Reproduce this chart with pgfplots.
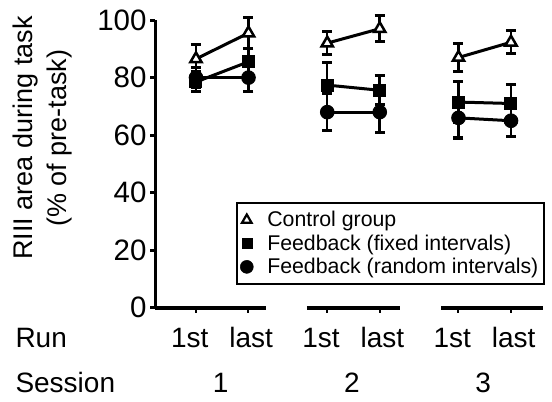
\documentclass[border=0pt]{standalone}
\usepackage{pgfplots}
\pgfplotsset{compat=1.18}
\usepackage{fontspec}
\setmainfont{Liberation Sans}
\newcommand{\bigfnt}{\fontsize{28}{32}\selectfont}
\newcommand{\tickfnt}{\fontsize{29.5}{32}\selectfont}
\pgfplotsset{
  grp/.style={black, line width=3pt, forget plot,
    error bars/y dir=both, error bars/y explicit,
    error bars/error bar style={line width=2.5pt, black, solid},
    error bars/error mark options={rotate=90, mark size=5pt, line width=3pt, black}},
  ctrl/.style={grp, mark=triangle*, mark size=6.5pt, mark options={fill=white, line width=2.5pt}},
  fixd/.style={grp, mark=square*, mark size=6pt, mark options={fill=black, line width=1pt}},
  rand/.style={grp, mark=*, mark size=6.8pt, mark options={fill=black, line width=1pt}},
}
\begin{document}
\begin{tikzpicture}
\begin{axis}[
  scale only axis,
  width=392.7pt, height=287.5pt,
  xmin=-0.78, xmax=6.7, ymin=0, ymax=100,
  axis y line*=left, axis x line=none,
  y axis line style={line width=3pt},
  xtick=\empty,
  ytick={0,20,40,60,80,100},
  tick align=outside,
  major tick length=5pt,
  major tick style={line width=3pt, black},
  /pgf/number format/assume math mode=true,
  yticklabel style={font=\tickfnt},
  ylabel={RIII area during task\\(\% of pre-task)},
  ylabel style={align=center, font=\fontsize{27}{34}\selectfont, at={(axis description cs:-0.2875,0.59)}, anchor=center},
  clip=false,
  legend cell align=left,
  legend style={at={(axis cs:0.76,36.7)}, anchor=north west, draw=black, line width=1.8pt,
    font=\fontsize{21.3}{24}\selectfont, inner xsep=3.5pt, inner ysep=6.5pt, row sep=2.5pt,
    /tikz/every odd column/.append style={column sep=12pt}},
]
% bounding box
\path (axis cs:-3.733,-32.5) rectangle (axis cs:6.781,107);
% x axis segments
\draw[line width=4pt] (axis cs:-0.78,0) -- (axis cs:1.33,0);
\draw[line width=4pt] (axis cs:2.11,0) -- (axis cs:3.89,0);
\draw[line width=4pt] (axis cs:4.67,0) -- (axis cs:6.61,0);
\draw[line width=2pt] (axis cs:0,0) -- ++(0pt,-5pt);
\draw[line width=2pt] (axis cs:1,0) -- ++(0pt,-5pt);
\draw[line width=2pt] (axis cs:2.5,0) -- ++(0pt,-5pt);
\draw[line width=2pt] (axis cs:3.5,0) -- ++(0pt,-5pt);
\draw[line width=2pt] (axis cs:5,0) -- ++(0pt,-5pt);
\draw[line width=2pt] (axis cs:6,0) -- ++(0pt,-5pt);
% random intervals
\addplot[rand] coordinates {(0,80) +- (0,3.5) (1,80) +- (0,4.7)};
\addplot[rand] coordinates {(2.5,68) +- (0,6.5) (3.5,68) +- (0,7)};
\addplot[rand] coordinates {(5,66) +- (0,7) (6,65) +- (0,5.5)};
% fixed intervals
\addplot[fixd] coordinates {(0,78.5) +- (0,3.5) (1,85.5) +- (0,4.5)};
\addplot[fixd] coordinates {(2.5,77.4) +- (0,8) (3.5,75.6) +- (0,5)};
\addplot[fixd] coordinates {(5,71.5) +- (0,7) (6,71) +- (0,6.5)};
% control
\addplot[ctrl] coordinates {(0,86.5) +- (0,5) (1,95.5) +- (0,5.5)};
\addplot[ctrl] coordinates {(2.5,92) +- (0,4) (3.5,97) +- (0,4.5)};
\addplot[ctrl] coordinates {(5,87) +- (0,5) (6,92.3) +- (0,4)};
% legend
\addlegendimage{only marks, black, mark=triangle*, mark size=5.5pt, mark options={fill=white, line width=2.2pt}}
\addlegendentry{Control group}
\addlegendimage{only marks, black, mark=square*, mark size=5pt, mark options={fill=black, line width=0.5pt}}
\addlegendentry{Feedback (fixed intervals)}
\addlegendimage{only marks, black, mark=*, mark size=6.5pt, mark options={fill=black, line width=0.5pt}}
\addlegendentry{Feedback (random intervals)}
% labels
\node[anchor=base west, font=\bigfnt] at (axis cs:-3.505,-13.74) {Run};
\node[anchor=base west, font=\bigfnt] at (axis cs:-3.505,-29.4) {Session};
\node[anchor=base, font=\bigfnt] at (axis cs:-0.12,-13.74) {1st};
\node[anchor=base, font=\bigfnt] at (axis cs:1.05,-13.74) {last};
\node[anchor=base, font=\bigfnt] at (axis cs:2.38,-13.74) {1st};
\node[anchor=base, font=\bigfnt] at (axis cs:3.55,-13.74) {last};
\node[anchor=base, font=\bigfnt] at (axis cs:4.88,-13.74) {1st};
\node[anchor=base, font=\bigfnt] at (axis cs:6.05,-13.74) {last};
\node[anchor=base, font=\bigfnt] at (axis cs:0.47,-29.4) {1};
\node[anchor=base, font=\bigfnt] at (axis cs:2.97,-29.4) {2};
\node[anchor=base, font=\bigfnt] at (axis cs:5.47,-29.4) {3};
\end{axis}
\end{tikzpicture}
\end{document}
